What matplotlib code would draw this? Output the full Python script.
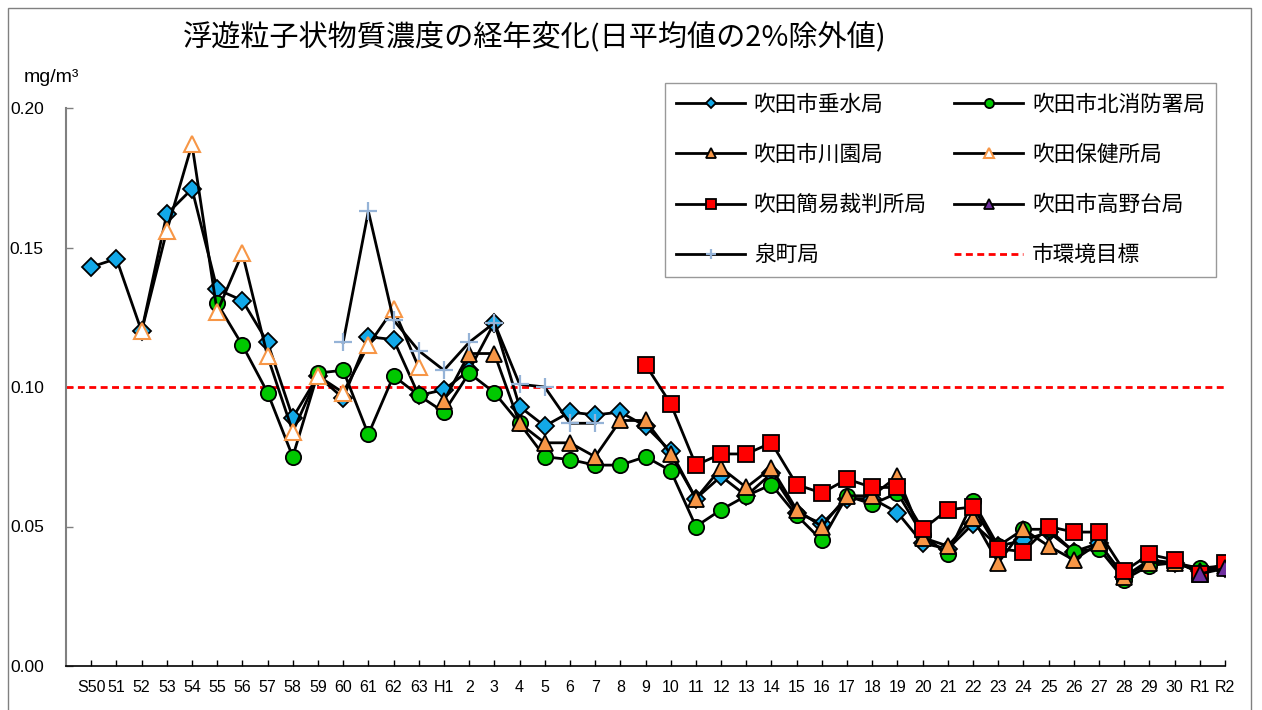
import matplotlib
matplotlib.use("Agg")

import numpy as np
import matplotlib.pyplot as plt
from matplotlib.patches import Rectangle

plt.rcParams["font.family"] = ["Noto Sans CJK JP", "DejaVu Sans"]

nan = np.nan

# 年度ラベル (S50〜S63, H1〜H30, R1, R2)
years = (["S50"] + [str(y) for y in range(51, 64)] + ["H1"]
         + [str(y) for y in range(2, 31)] + ["R1", "R2"])

# 各測定局の値 (mg/m3)
tarumi = [0.143, 0.146, 0.120, 0.162, 0.171, 0.135, 0.131, 0.116, 0.089, 0.104,
          0.096, 0.118, 0.117, 0.097, 0.099, 0.106, 0.123, 0.093, 0.086, 0.091,
          0.090, 0.091, 0.086, 0.077, 0.060, 0.068, 0.061, 0.069, 0.055, 0.051,
          0.060, 0.060, 0.055, 0.044, 0.042, 0.051, 0.043, 0.045, 0.048, 0.041,
          0.044, 0.032, 0.038, 0.037, 0.034, 0.035]
kita = [nan, nan, nan, nan, nan, 0.130, 0.115, 0.098, 0.075, 0.105,
        0.106, 0.083, 0.104, 0.097, 0.091, 0.105, 0.098, 0.087, 0.075, 0.074,
        0.072, 0.072, 0.075, 0.070, 0.050, 0.056, 0.061, 0.065, 0.054, 0.045,
        0.061, 0.058, 0.062, 0.047, 0.040, 0.059, 0.043, 0.049, 0.049, 0.041,
        0.042, 0.031, 0.036, 0.037, 0.035, 0.036]
kawazono = [nan] * 14 + [
        0.095, 0.112, 0.112, 0.087, 0.080, 0.080,
        0.075, 0.088, 0.088, 0.076, 0.060, 0.071, 0.064, 0.071, 0.056, 0.050,
        0.061, 0.061, 0.068, 0.046, 0.043, 0.053, 0.037, 0.049, 0.043, 0.038,
        0.044, 0.032, 0.037, 0.037, 0.034, 0.036]
hoken = [nan, nan, 0.120, 0.156, 0.187, 0.127, 0.148, 0.111, 0.084, 0.104,
         0.098, 0.115, 0.128, 0.107] + [nan] * 32
saiban = [nan] * 22 + [
          0.108, 0.094, 0.072, 0.076, 0.076, 0.080, 0.065, 0.062,
          0.067, 0.064, 0.064, 0.049, 0.056, 0.057, 0.042, 0.041, 0.050, 0.048,
          0.048, 0.034, 0.040, 0.038, 0.033, 0.037]
takanodai = [nan] * 44 + [0.033, 0.035]
izumi = [nan] * 10 + [
         0.116, 0.163, 0.124, 0.113, 0.106, 0.116, 0.123, 0.101, 0.100, 0.087,
         0.087] + [nan] * 25
target = 0.10

W, H = 1262, 710
fig = plt.figure(figsize=(W / 100, H / 100), dpi=100)
ax = fig.add_axes([66 / W, 1 - 666 / H, (1225 - 66) / W, (666 - 108) / H])

x = np.arange(len(years))
lw = 2.0
series = [
    ("吹田市垂水局", tarumi, dict(marker="D", ms=9, mfc="#12A8E8", mec="black", mew=1.3)),
    ("吹田市北消防署局", kita, dict(marker="o", ms=11, mfc="#00C800", mec="black", mew=1.3)),
    ("吹田市川園局", kawazono, dict(marker="^", ms=11, mfc="#F79646", mec="black", mew=1.3)),
    ("吹田保健所局", hoken, dict(marker="^", ms=12, mfc="white", mec="#F79646", mew=1.5)),
    ("吹田簡易裁判所局", saiban, dict(marker="s", ms=11, mfc="#FF0000", mec="black", mew=1.3)),
    ("吹田市高野台局", takanodai, dict(marker="^", ms=11, mfc="#7030A0", mec="black", mew=1.3)),
    ("泉町局", izumi, dict(marker="+", ms=13, mec="#95B3D7", mew=1.6)),
]
handles = {}
for i, (name, vals, st) in enumerate(series):
    ln, = ax.plot(x, vals, color="black", lw=lw, label=name, zorder=3 + i, **st)
    handles[name] = ln

tl = ax.axhline(target, color="#FF0000", lw=2.0, ls=(0, (2.5, 1.6)), zorder=2, label="市環境目標")
handles["市環境目標"] = tl

ax.set_xlim(-1, len(years) - 1)
ax.set_ylim(0, 0.20)
ax.set_xticks(x)
ax.set_xticklabels(years, family=["Liberation Sans Narrow", "Liberation Sans"], fontsize=11.5)
ax.set_yticks([0, 0.05, 0.10, 0.15, 0.20])
ax.set_yticklabels(["0.00", "0.05", "0.10", "0.15", "0.20"],
                   family=["Liberation Sans"], fontsize=12.5)
ax.tick_params(axis="x", direction="in", length=4, width=1, color="black", pad=10)
ax.tick_params(axis="y", direction="in", length=5, width=1, color="#808080", pad=16)
for s in ["top", "right"]:
    ax.spines[s].set_visible(False)
ax.spines["left"].set_color("#808080")
ax.spines["left"].set_linewidth(1.5)
ax.spines["bottom"].set_color("black")
ax.spines["bottom"].set_linewidth(1.2)

order = ["吹田市垂水局", "吹田市川園局", "吹田簡易裁判所局", "泉町局",
         "吹田市北消防署局", "吹田保健所局", "吹田市高野台局", "市環境目標"]
leg = fig.legend([handles[k] for k in order], order, ncol=2,
                 loc="upper left", bbox_to_anchor=(665 / W, 1 - 83 / H),
                 fontsize=15.6, markerscale=0.6, handlelength=3.2, handletextpad=0.4,
                 labelspacing=1.3, columnspacing=1.25, borderpad=0.5,
                 frameon=True, fancybox=False, edgecolor="#808080", borderaxespad=0)
leg.get_frame().set_linewidth(1.0)

fig.text(535 / W, 1 - 38 / H, "浮遊粒子状物質濃度の経年変化(日平均値の2%除外値)",
         ha="center", va="center", fontsize=21)
fig.text(51 / W, 1 - 78 / H, "mg/m³", ha="center", va="center", fontsize=14,
         family=["Liberation Sans"])

fig.patches.append(Rectangle((8 / W, -0.01), (1251 - 8) / W, 1 - 8 / H + 0.01,
                             transform=fig.transFigure, fill=False,
                             edgecolor="#808080", lw=1.0))

fig.savefig("out.png", dpi=100)
